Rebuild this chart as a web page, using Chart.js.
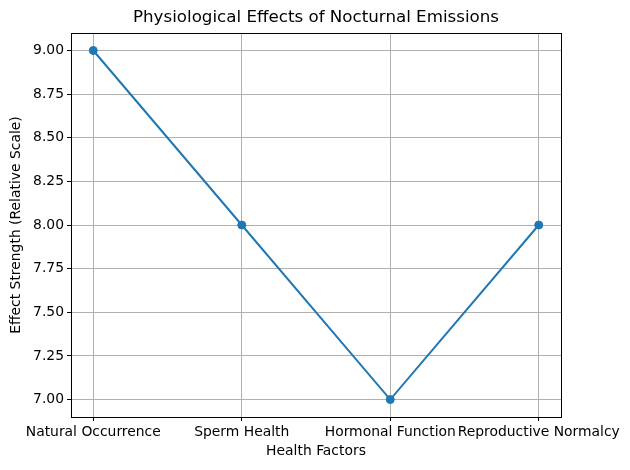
<!DOCTYPE html>
<html>
<head>
<meta charset="utf-8">
<script src="https://cdn.jsdelivr.net/npm/chart.js@4/dist/chart.umd.min.js"></script>
<style>
  html, body { margin: 0; padding: 0; background: #fff; }
  #wrap { width: 630px; height: 470px; }
</style>
</head>
<body>
<div id="wrap"><canvas id="myChart" width="630" height="470"></canvas></div>
<script>
// chart data
var categories = ['Natural Occurrence', 'Sperm Health', 'Hormonal Function', 'Reproductive Normalcy'];
var effectValues = [9, 8, 7, 8];
var yTicks = [7.00, 7.25, 7.50, 7.75, 8.00, 8.25, 8.50, 8.75, 9.00];

var FONT = 'DejaVu Sans';

// black box round the plot area, like the axes spines
var frame = {
  id: 'frame',
  afterDatasetsDraw: function (chart) {
    var a = chart.chartArea;
    var ctx = chart.ctx;
    ctx.save();
    ctx.strokeStyle = '#000';
    ctx.lineWidth = 1;
    ctx.strokeRect(Math.round(a.left) + 0.5, Math.round(a.top) + 0.5,
      Math.round(a.right - a.left), Math.round(a.bottom - a.top));
    ctx.restore();
  }
};

new Chart('myChart', {
  type: 'line',
  data: {
    datasets: [{
      data: effectValues.map(function (v, i) { return {x: i, y: v}; }),
      borderColor: '#1f77b4',
      backgroundColor: '#1f77b4',
      borderWidth: 2,
      pointRadius: 4,
      pointHoverRadius: 4,
      pointBorderWidth: 1,
      pointBackgroundColor: '#1f77b4',
      pointBorderColor: '#1f77b4',
      tension: 0,
      fill: false
    }]
  },
  options: {
    responsive: false,
    animation: false,
    layout: {padding: {left: 4, right: 69, top: 0, bottom: 6}},
    plugins: {
      legend: {display: false},
      tooltip: {enabled: false},
      title: {
        display: true,
        fullSize: false,
        text: 'Physiological Effects of Nocturnal Emissions',
        color: '#000',
        font: {family: FONT, size: 16.7, weight: 'normal'},
        padding: {top: 8, bottom: 5}
      }
    },
    scales: {
      x: {
        type: 'linear',
        min: -0.15,
        max: 3.15,
        afterBuildTicks: function (scale) {
          scale.ticks = categories.map(function (c, i) { return {value: i}; });
        },
        afterFit: function (scale) { scale.height = 47; },
        ticks: {
          autoSkip: false,
          maxRotation: 0,
          minRotation: 0,
          padding: 3,
          color: '#000',
          font: {family: FONT, size: 13.9},
          callback: function (v) { return categories[v]; }
        },
        grid: {color: '#b0b0b0', lineWidth: 1, tickColor: '#000', tickLength: 4},
        border: {display: false},
        title: {
          display: true,
          text: 'Health Factors',
          color: '#000',
          font: {family: FONT, size: 13.9},
          padding: {top: 4, bottom: 4}
        }
      },
      y: {
        min: 6.9,
        max: 9.1,
        afterBuildTicks: function (scale) {
          scale.ticks = yTicks.map(function (v) { return {value: v}; });
        },
        afterFit: function (scale) { scale.width = 67; },
        ticks: {
          padding: 3,
          color: '#000',
          font: {family: FONT, size: 13.9},
          callback: function (v) { return Number(v).toFixed(2); }
        },
        grid: {color: '#b0b0b0', lineWidth: 1, tickColor: '#000', tickLength: 4},
        border: {display: false},
        title: {
          display: true,
          text: 'Effect Strength (Relative Scale)',
          color: '#000',
          font: {family: FONT, size: 13.9},
          padding: {top: 4, bottom: 4}
        }
      }
    }
  },
  plugins: [frame]
});
</script>
</body>
</html>
